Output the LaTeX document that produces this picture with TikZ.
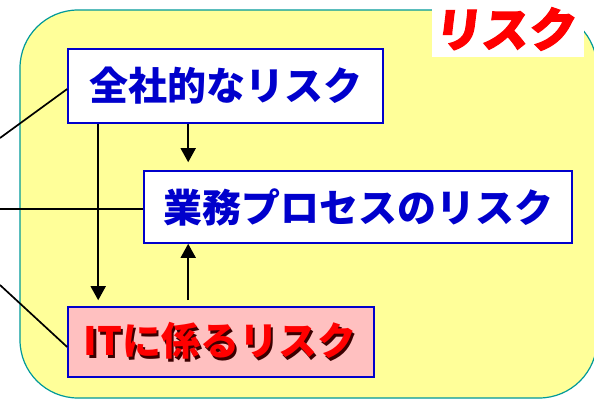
\documentclass[tikz,border=0pt]{standalone}
\usepackage{fontspec}
\newfontfamily\jp{Noto Sans CJK JP}
\newfontfamily\jptitle[FakeSlant=0.12,FakeBold=2.5]{Noto Sans CJK JP}
\usetikzlibrary{arrows.meta,calc}
\definecolor{bgyellow}{HTML}{FFFF99}
\definecolor{bgteal}{HTML}{009999}
\definecolor{boxblue}{HTML}{0000CC}
\definecolor{pinkfill}{HTML}{FFC0C0}
\definecolor{shadowred}{HTML}{3A0000}
\tikzset{
  riskbox/.style={draw=boxblue, line width=1.6pt, fill=white, inner sep=0pt, anchor=center},
  boxtext/.style={font=\jp\bfseries\fontsize{39}{42}\selectfont, inner sep=0pt},
  conn/.style={line width=1.7pt, black},
  arr/.style={conn, -{Triangle[width=15pt,length=14pt]}}
}
\begin{document}
\begin{tikzpicture}[x=1pt,y=-1pt]
\useasboundingbox (0,0) rectangle (594,400);
% outer rounded panel
\draw[fill=bgyellow, draw=bgteal, line width=1.2pt, rounded corners=58pt] (20,10) rectangle (597,398);
% title
\fill[white] (432,0) rectangle (584,57);
\node[font=\jptitle\bfseries\fontsize{47}{49}\selectfont, text=red, inner sep=0pt] (title) at (504,29) {リスク};
% boxes
\node[riskbox, minimum width=315pt, minimum height=74pt] (b1) at (225.5,86) {};
\node[boxtext, text=boxblue] (t1) at (b1.center) {全社的なリスク};
\node[riskbox, minimum width=428pt, minimum height=72pt] (b2) at (358,207) {};
\node[boxtext, text=boxblue] (t2) at (b2.center) {業務プロセスのリスク};
\node[riskbox, fill=pinkfill, minimum width=306pt, minimum height=70pt] (b3) at (221,342) {};
\node[boxtext, text=red] (t3) at ($(b3.center)+(-1,0)$) {\rlap{\kern2.5pt\raisebox{-2.5pt}{\color{shadowred}ITに係るリスク}}ITに係るリスク};
% free ends at left
\coordinate (l1) at (0,138);
\coordinate (l2) at (0,209);
\coordinate (l3) at (0,285);
\draw[conn] (l1) -- ([yshift=-3pt]b1.west);
\draw[conn] (l2) -- ([yshift=-2pt]b2.west);
\draw[conn] (l3) -- ([yshift=-5pt]b3.west);
% arrows
\draw[arr] ([xshift=31pt]b1.south west) -- ([xshift=31pt,yshift=6pt]b3.north west);
\draw[arr] ([xshift=121pt]b1.south west) -- ([xshift=45pt,yshift=8pt]b2.north west);
\draw[arr] ([xshift=121pt,yshift=6pt]b3.north west) -- ([xshift=45pt]b2.south west);
\end{tikzpicture}
\end{document}
